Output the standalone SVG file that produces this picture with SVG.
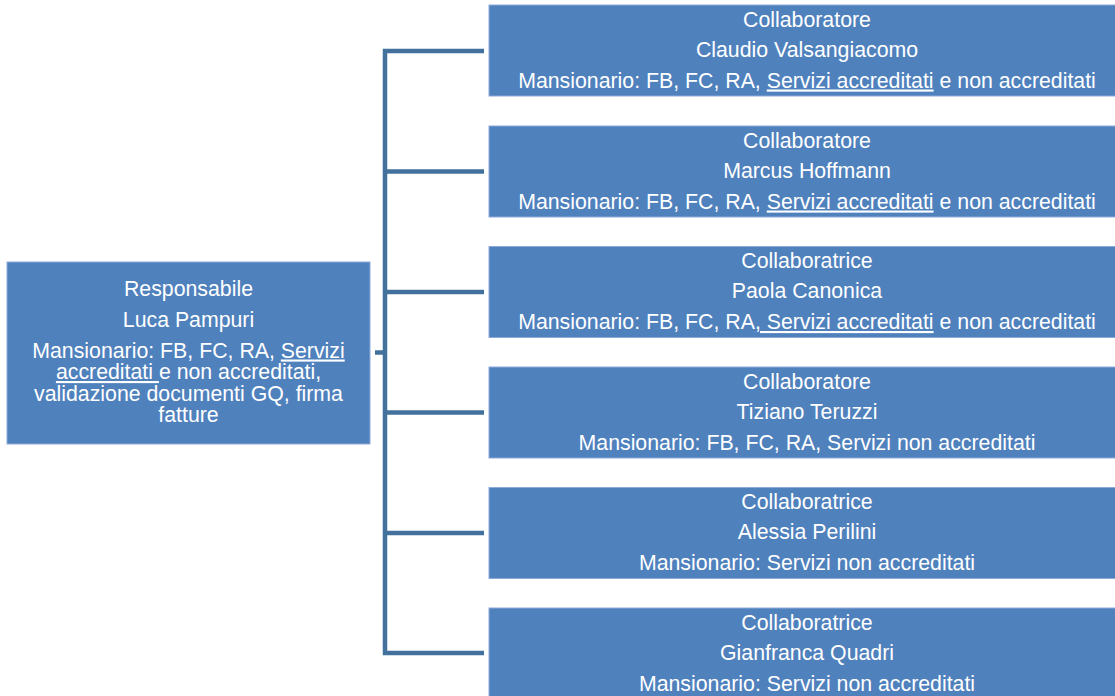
<svg xmlns="http://www.w3.org/2000/svg" width="1115" height="696" viewBox="0 0 1115 696">
<style>
.box{fill:#4F81BD;stroke:#8EAADB;stroke-width:1}
.t{font-family:"Liberation Sans",Arial,sans-serif;font-size:21.3px;fill:#FFFFFF;text-anchor:middle}
.u{text-decoration:underline}
.c{fill:none;stroke:#41719C;stroke-width:4.5;stroke-linejoin:miter}
</style>
<rect width="1115" height="696" fill="#FFFFFF"/>
<g id="connectors">
<path class="c" d="M484,51 H385 V653 H484"/>
<path class="c" d="M385,171.5 H484 M385,292 H484 M385,412.5 H484 M385,533 H484"/>
<path class="c" d="M375,352.5 H385"/>
</g>
<g id="responsabile">
<rect class="box" x="7" y="262" width="363" height="182"/>
<text class="t" x="188.5" y="295.5">Responsabile</text>
<text class="t" x="188.5" y="326.5">Luca Pampuri</text>
<text class="t" x="188.5" y="357.5">Mansionario: FB, FC, RA, <tspan class="u">Servizi</tspan></text>
<text class="t" x="188.5" y="379"><tspan class="u">accreditati </tspan>e non accreditati,</text>
<text class="t" x="188.5" y="400.5">validazione documenti GQ, firma</text>
<text class="t" x="188.5" y="422">fatture</text>
</g>
<g id="valsangiacomo">
<rect class="box" x="489" y="5" width="640" height="91"/>
<text class="t" x="807" y="26.5">Collaboratore</text>
<text class="t" x="807" y="56.5">Claudio Valsangiacomo</text>
<text class="t" x="807" y="87.5">Mansionario: FB, FC, RA, <tspan class="u">Servizi accreditati</tspan> e non accreditati</text>
</g>
<g id="hoffmann">
<rect class="box" x="489" y="126" width="640" height="91"/>
<text class="t" x="807" y="147.5">Collaboratore</text>
<text class="t" x="807" y="177.5">Marcus Hoffmann</text>
<text class="t" x="807" y="208.5">Mansionario: FB, FC, RA, <tspan class="u">Servizi accreditati</tspan> e non accreditati</text>
</g>
<g id="canonica">
<rect class="box" x="489" y="246.5" width="640" height="91"/>
<text class="t" x="807" y="268">Collaboratrice</text>
<text class="t" x="807" y="298">Paola Canonica</text>
<text class="t" x="807" y="329">Mansionario: FB, FC, RA<tspan class="u">, Servizi accreditati</tspan> e non accreditati</text>
</g>
<g id="teruzzi">
<rect class="box" x="489" y="367" width="640" height="91"/>
<text class="t" x="807" y="388.5">Collaboratore</text>
<text class="t" x="807" y="418.5">Tiziano Teruzzi</text>
<text class="t" x="807" y="449.5">Mansionario: FB, FC, RA, Servizi non accreditati</text>
</g>
<g id="perilini">
<rect class="box" x="489" y="487.5" width="640" height="91"/>
<text class="t" x="807" y="509">Collaboratrice</text>
<text class="t" x="807" y="539">Alessia Perilini</text>
<text class="t" x="807" y="570">Mansionario: Servizi non accreditati</text>
</g>
<g id="quadri">
<rect class="box" x="489" y="608" width="640" height="91"/>
<text class="t" x="807" y="629.5">Collaboratrice</text>
<text class="t" x="807" y="659.5">Gianfranca Quadri</text>
<text class="t" x="807" y="690.5">Mansionario: Servizi non accreditati</text>
</g>
</svg>
